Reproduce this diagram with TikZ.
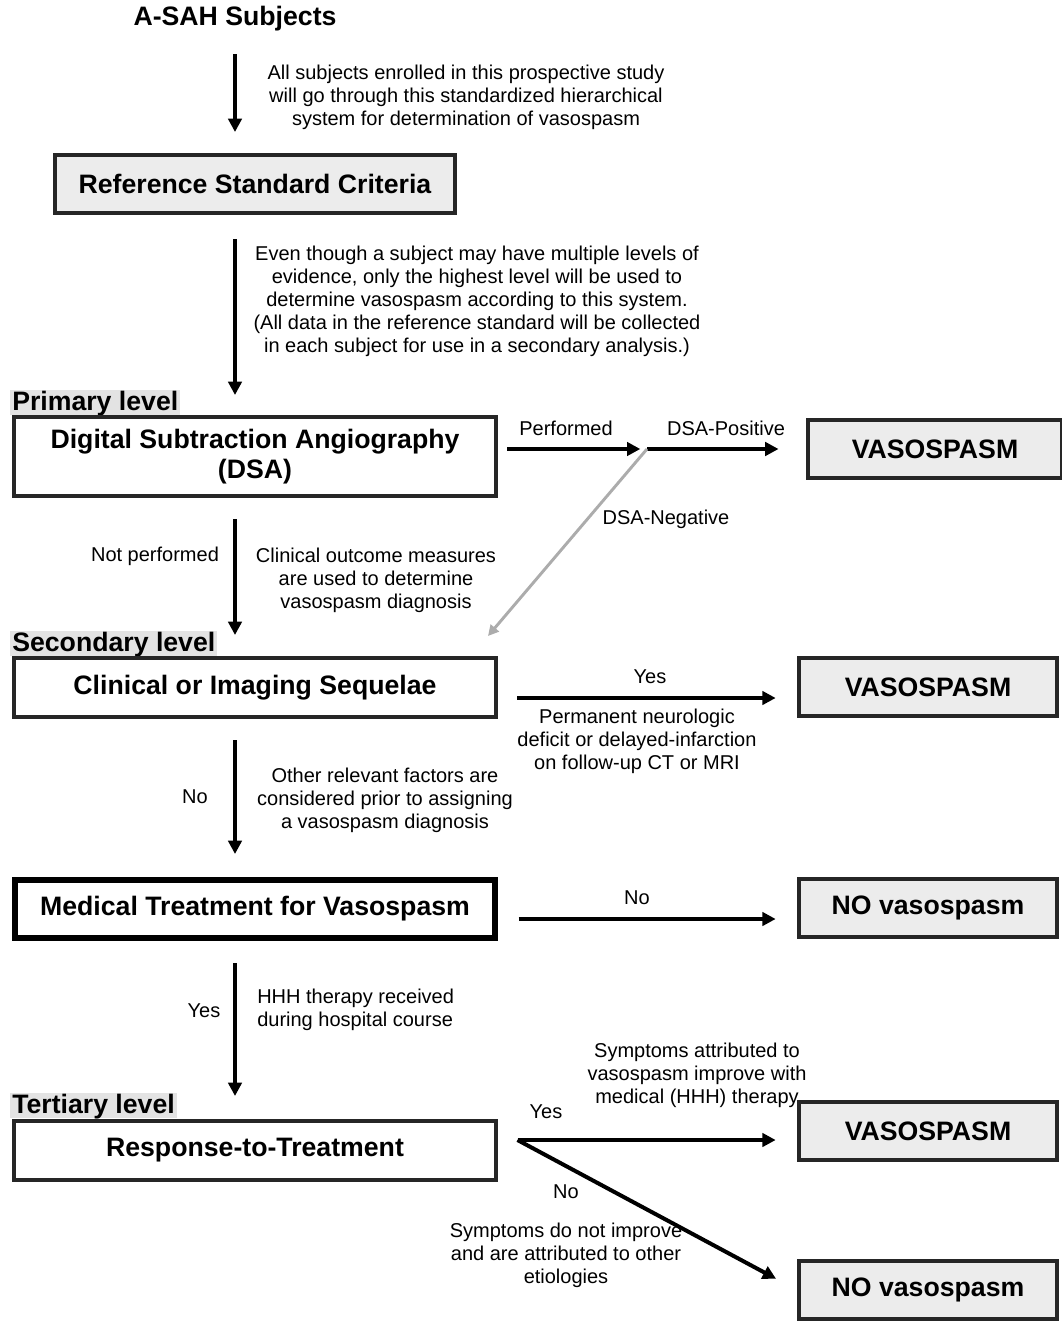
\documentclass[tikz,border=0pt]{standalone}
\usepackage{fontspec}
\setmainfont{Liberation Sans}
\usetikzlibrary{arrows.meta,calc}
\begin{document}
\begin{tikzpicture}[x=0.75pt,y=-0.75pt,
  box/.style={draw=black!85, line width=3pt, fill=gray!15, inner sep=0pt, align=center,
    font=\bfseries\fontsize{20}{22}\selectfont},
  wbox/.style={box, fill=white},
  mbox/.style={box, fill=white, draw=black, line width=4.5pt},
  lbl/.style={inner sep=0pt, align=center, font=\fontsize{15}{17.25}\selectfont},
  ttl/.style={inner sep=0pt, font=\bfseries\fontsize{20}{22}\selectfont},
  lvl/.style={anchor=base west, fill=gray!22, inner xsep=1.5pt, inner ysep=0pt,
    text height=15pt, text depth=4pt, font=\bfseries\fontsize{20}{22}\selectfont},
  arr/.style={line width=3pt, -{Triangle[length=10pt,width=10pt]}},
  garr/.style={draw=gray!65, line width=2.2pt, -{Triangle[length=8pt,width=8pt]}}]
\useasboundingbox (0,0) rectangle (1061,1321);

% level labels (behind boxes)
\node[lvl] (lv1) at (10,410) {Primary level};
\node[lvl] (lv2) at (10,651) {Secondary level};
\node[lvl] (lv3) at (10,1113) {Tertiary level};

% title and boxes
\node[ttl] (title) at (235,19) {A-SAH Subjects};
\node[box, minimum width=300pt, minimum height=43.5pt] (ref) at (255,184) {Reference Standard Criteria};
\node[wbox, minimum width=361.5pt, minimum height=59.25pt] (dsa) at (255,456.5) {Digital Subtraction Angiography\\(DSA)};
\node[box, minimum width=190.5pt, minimum height=43.5pt] (vas1) at (935,449) {VASOSPASM};
\node[wbox, minimum width=361.5pt, minimum height=44.25pt] (clin) at (255,687.5) {Clinical or Imaging Sequelae};
\node[box, minimum width=193.5pt, minimum height=43.5pt] (vas2) at (928,687) {VASOSPASM};
\node[mbox, minimum width=360pt, minimum height=43.5pt] (med) at (255,909) {Medical Treatment for Vasospasm};
\node[box, minimum width=193.5pt, minimum height=43.5pt] (no1) at (928,908) {NO vasospasm};
\node[wbox, minimum width=361.5pt, minimum height=44.25pt] (resp) at (255,1150.5) {Response-to-Treatment};
\node[box, minimum width=193.5pt, minimum height=43.5pt] (vas3) at (928,1131) {VASOSPASM};
\node[box, minimum width=193.5pt, minimum height=43.5pt] (no2) at (928,1290) {NO vasospasm};

% text labels
\node[lbl] (t1) at (466,97) {All subjects enrolled in this prospective study\\will go through this standardized hierarchical\\system for determination of vasospasm};
\node[lbl] (t2) at (477,301) {Even though a subject may have multiple levels of\\evidence, only the highest level will be used to\\determine vasospasm according to this system.\\(All data in the reference standard will be collected\\in each subject for use in a secondary analysis.)};
\node[lbl] (perf) at (566,428) {Performed};
\node[lbl] (dpos) at (726,428) {DSA-Positive};
\node[lbl] (dneg) at (666,519) {DSA-Negative};
\node[lbl] (notp) at (155,556) {Not performed};
\node[lbl] (t3) at (376,580) {Clinical outcome measures\\are used to determine\\vasospasm diagnosis};
\node[lbl] (yes1) at (650,677) {Yes};
\node[lbl] (t4) at (637,741) {Permanent neurologic\\deficit or delayed-infarction\\on follow-up CT or MRI};
\node[lbl] (no1l) at (195,797) {No};
\node[lbl] (t5) at (385,800) {Other relevant factors are\\considered prior to assigning\\a vasospasm diagnosis};
\node[lbl] (no2l) at (637,898) {No};
\node[lbl] (yes2) at (204,1011) {Yes};
\node[lbl, anchor=west, align=left] (t6) at (257,1010) {HHH therapy received\\during hospital course};
\node[lbl] (t7) at (697,1075) {Symptoms attributed to\\vasospasm improve with\\medical (HHH) therapy};
\node[lbl] (yes3) at (546,1112) {Yes};
\node[lbl] (no3l) at (566,1192) {No};
\node[lbl] (t8) at (566,1255) {Symptoms do not improve\\and are attributed to other\\etiologies};

% coordinates
\coordinate (ax) at (235,0);
\coordinate (j) at (647,449);
\coordinate (gtip) at ($(clin.north east)+(-10,-20)$);
\coordinate (y2) at (0,698);
\coordinate (y3) at (0,919);
\coordinate (rj) at ($(resp.east)+(19.5,-10.5)$);

% vertical arrows
\draw[arr, shorten <=17pt, shorten >=15.75pt] (title.south -| ax) -- (ref.north -| ax);
\draw[arr, shorten <=18pt, shorten >=15pt] (ref.south -| ax) -- (dsa.north -| ax);
\draw[arr, shorten <=15.75pt, shorten >=15.75pt] (dsa.south -| ax) -- (clin.north -| ax);
\draw[arr, shorten <=15.75pt, shorten >=17.25pt] (clin.south -| ax) -- (med.north -| ax);
\draw[arr, shorten <=16.5pt, shorten >=17.25pt] (med.south -| ax) -- (resp.north -| ax);

% horizontal arrows
\draw[arr, shorten <=7pt, shorten >=5pt] (dsa.east |- j) -- (j);
\draw[arr, shorten >=20.6pt] (j) -- (vas1.west |- j);
\draw[garr] (j) -- (gtip);
\draw[arr, shorten <=14.6pt, shorten >=16pt] (clin.east |- y2) -- (vas2.west |- y2);
\draw[arr, shorten <=15.4pt, shorten >=16pt] (med.east |- y3) -- (no1.west |- y3);
\draw[arr, shorten >=16pt] (rj) -- (vas3.west |- rj);
\draw[arr, shorten >=17.8pt] (rj) -- (no2.west);
\end{tikzpicture}
\end{document}
